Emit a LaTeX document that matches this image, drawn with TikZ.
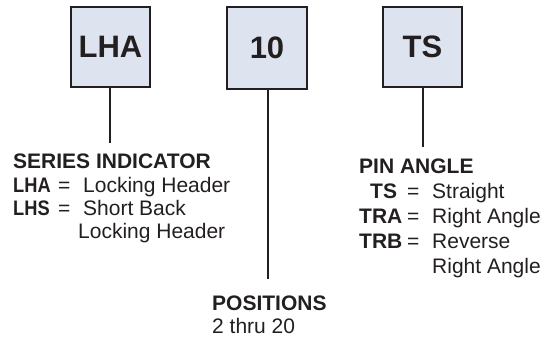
\documentclass[tikz,border=0pt]{standalone}
\usepackage{graphicx}
\usepackage{fontspec}
\setmainfont{Liberation Sans}
\definecolor{boxfill}{HTML}{DDE4F0}
\definecolor{ink}{HTML}{231F20}
\newcommand{\narrowcode}[1]{\scalebox{0.87}[1]{\bfseries #1}}
\begin{document}
\begin{tikzpicture}[x=1pt,y=-1pt,
  codebox/.style={draw=ink,line width=1.4pt,fill=boxfill,inner sep=0pt,
    font=\fontsize{31}{34}\selectfont\bfseries,text=ink},
  leader/.style={draw=ink,line width=2pt},
  txt/.style={anchor=base west,inner sep=0pt,font=\fontsize{21}{24}\selectfont,text=ink}]
\useasboundingbox (0,0) rectangle (554,337);
% boxes
\node[codebox,minimum width=79pt,minimum height=80pt] (b1) at (110.5,47) {LHA};
\node[codebox,minimum width=80pt,minimum height=82pt] (b2) at (267,48) {10};
\node[codebox,minimum width=79pt,minimum height=80pt] (b3) at (422.5,47) {TS};
% leader ends
\coordinate (e1) at (110,143);
\coordinate (e2) at (268,279);
\coordinate (e3) at (423,147);
\draw[leader] (b1.south -| e1) -- (e1);
\draw[leader] (b2.south -| e2) -- (e2);
\draw[leader] (b3.south -| e3) -- (e3);
% series indicator
\node[txt] (s0) at (13,168) {\bfseries SERIES INDICATOR};
\node[txt] (s1) at (13,192) {\narrowcode{LHA}};
\node[txt] (s1e) at (58,192) {=};
\node[txt] (s1t) at (83,192) {Locking Header};
\node[txt] (s2) at (13,215) {\narrowcode{LHS}};
\node[txt] (s2e) at (58,215) {=};
\node[txt] (s2t) at (83,215) {Short Back};
\node[txt] (s3) at (78,238) {Locking Header};
% pin angle
\node[txt] (p0) at (359,173) {\bfseries PIN ANGLE};
\node[txt] (p1) at (370,198) {\textbf{TS}};
\node[txt] (p1e) at (407,198) {=};
\node[txt] (p1t) at (432,198) {Straight};
\node[txt] (p2) at (359,223) {\textbf{TRA}};
\node[txt] (p2e) at (407,223) {=};
\node[txt] (p2t) at (432,223) {Right Angle};
\node[txt] (p3) at (359,248) {\textbf{TRB}};
\node[txt] (p3e) at (407,248) {=};
\node[txt] (p3t) at (432,248) {Reverse};
\node[txt] (p4) at (432,273) {Right Angle};
% positions
\node[txt] (q0) at (212,310) {\bfseries POSITIONS};
\node[txt] (q1) at (212,333) {2 thru 20};
\end{tikzpicture}
\end{document}
